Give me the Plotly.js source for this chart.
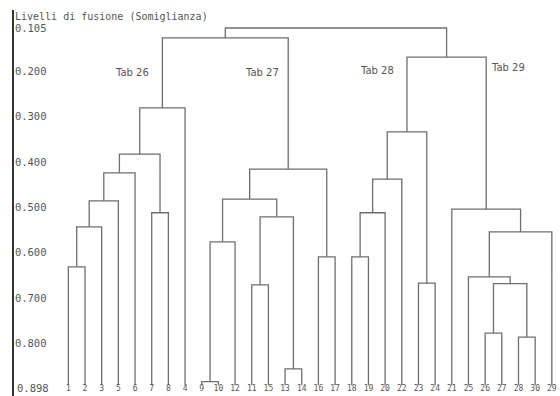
<!DOCTYPE html>
<html><head><meta charset="utf-8">
<script src="https://cdn.plot.ly/plotly-3.0.1.min.js"></script>
<style>html,body{margin:0;padding:0;background:#fff}#chart{width:560px;height:396px}</style>
</head><body><div id="chart"></div>
<script>
// Leaf order (bottom labels)
const leafLabels = ['1','2','3','5','6','7','8','4','9','10','12','11','15','13','14','16','17','18','19','20','22','23','24','21','25','26','27','28','30','29'];
const leafBase = 0.892;
// Merges: node ids < 30 are leaves (by position), >= 30 are earlier merges (30 + index)
const mergeLeft   = [0,30,31,32,5,33,35,8,37,11,13,39,38,15,42,36,17,46,47,21,48,25,27,51,24,54,23,50,45];
const mergeRight  = [1,2,3,4,6,34,7,9,10,12,14,40,41,16,43,44,18,19,20,22,49,26,28,52,53,29,55,56,57];
const mergeHeight = [0.631,0.543,0.486,0.424,0.512,0.383,0.281,0.884,0.576,0.671,0.856,0.521,0.482,0.609,0.416,0.127,0.609,0.512,0.438,0.667,0.334,0.777,0.786,0.668,0.653,0.554,0.504,0.169,0.105];
// Y ticks
const yTickVals = [0.105,0.2,0.3,0.4,0.5,0.6,0.7,0.8,0.898];
const yTickText = ['0.105','0.200','0.300','0.400','0.500','0.600','0.700','0.800','0.898'];
const groupLabels = ['Tab 26','Tab 27','Tab 28','Tab 29'];
const groupLabelX = [3.8, 11.6, 18.5, 26.4];
const groupLabelY = [0.202, 0.204, 0.198, 0.191];
const yTitle = 'Livelli di fusione (Somiglianza)';

const nodeX = [], nodeY = [];
for (let i = 0; i < leafLabels.length; i++) { nodeX.push(i); nodeY.push(leafBase); }
const xs = [], ys = [];
for (let k = 0; k < mergeHeight.length; k++) {
  const a = mergeLeft[k], b = mergeRight[k], h = mergeHeight[k];
  xs.push(nodeX[a], nodeX[a], nodeX[b], nodeX[b], null);
  ys.push(nodeY[a], h, h, nodeY[b], null);
  nodeX.push((nodeX[a] + nodeX[b]) / 2);
  nodeY.push(h);
}

const txtFont = {family: 'DejaVu Sans Mono, monospace', size: 10.5, color: '#555'};
const nMain = yTickVals.length - 1;

const trace = {
  x: xs, y: ys, mode: 'lines', type: 'scatter',
  line: {color: '#6e6e6e', width: 1.3},
  hoverinfo: 'skip', showlegend: false, connectgaps: false
};

const annotations = groupLabels.map((t, i) => ({
  text: t, x: groupLabelX[i], y: groupLabelY[i], xref: 'x', yref: 'y',
  showarrow: false, font: {family: 'DejaVu Sans, sans-serif', size: 10, color: '#555'}
}));
// bottom tick label (drawn as annotation so it is not clipped)
annotations.push({
  text: yTickText[nMain], x: 0, xref: 'paper', xanchor: 'left', xshift: 1,
  y: yTickVals[nMain], yref: 'y', yanchor: 'middle', showarrow: false, font: txtFont
});

const layout = {
  width: 560, height: 396,
  margin: {l: 14, r: 0, t: 10, b: 0},
  paper_bgcolor: '#fff', plot_bgcolor: '#fff',
  showlegend: false,
  title: {text: yTitle, font: {family: 'DejaVu Sans Mono, monospace', size: 10, color: '#555'},
          x: 15/560, xanchor: 'left', xref: 'container',
          y: 1 - 16/396, yanchor: 'middle', yref: 'container'},
  xaxis: {
    range: [-3.26, 29.49], showgrid: false, zeroline: false, showline: false,
    tickmode: 'array', tickvals: leafLabels.map((_, i) => i), ticktext: leafLabels,
    ticks: '', ticklabelposition: 'inside',
    tickfont: {family: 'DejaVu Sans Mono, monospace', size: 8, color: '#555'}
  },
  yaxis: {
    range: [0.9156, 0.0654], showgrid: false, zeroline: false,
    showline: true, linecolor: '#333', linewidth: 2,
    tickmode: 'array', tickvals: yTickVals.slice(0, nMain), ticktext: yTickText.slice(0, nMain),
    ticks: '', ticklabelposition: 'inside', tickfont: txtFont
  },
  annotations: annotations
};

Plotly.newPlot('chart', [trace], layout, {displayModeBar: false, staticPlot: true});
</script>
</body></html>
